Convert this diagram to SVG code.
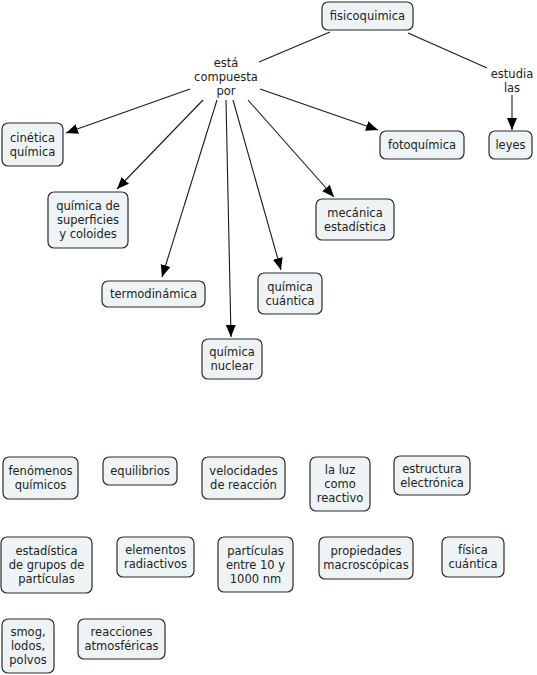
<svg xmlns="http://www.w3.org/2000/svg" width="537" height="675" viewBox="0 0 537 675">
<style>
.n rect{fill:#eef3f6;stroke:#2b2b2b;stroke-width:1.2}
text{font-family:"DejaVu Sans",Verdana,sans-serif;font-size:11.5px;fill:#222;text-anchor:middle}
.c line{stroke:#1a1a1a;stroke-width:1.1;fill:none}
</style>
<defs>
<marker id="a" markerUnits="userSpaceOnUse" markerWidth="13" markerHeight="11" refX="12" refY="5" orient="auto"><path d="M0,0 L12,5 L0,10 z" fill="#000"/></marker>
</defs>
<rect width="537" height="675" fill="#fff"/>
<g class="c" id="connectors">
<line x1="330" y1="32" x2="259" y2="62"/>
<line x1="408" y1="33" x2="487" y2="68"/>
<line x1="512" y1="95" x2="512" y2="130" marker-end="url(#a)"/>
<line x1="190" y1="89" x2="66" y2="133" marker-end="url(#a)"/>
<line x1="203" y1="100" x2="117" y2="189" marker-end="url(#a)"/>
<line x1="217" y1="100" x2="162" y2="277" marker-end="url(#a)"/>
<line x1="226" y1="100" x2="231" y2="337" marker-end="url(#a)"/>
<line x1="233" y1="100" x2="281" y2="270" marker-end="url(#a)"/>
<line x1="248" y1="100" x2="334" y2="197" marker-end="url(#a)"/>
<line x1="260" y1="89" x2="378" y2="130" marker-end="url(#a)"/>
</g>
<g id="lbl-esta"><text x="226" y="67">está</text><text x="226" y="81">compuesta</text><text x="226" y="95">por</text></g>
<g id="lbl-estudia"><text x="512" y="78">estudia</text><text x="512" y="92">las</text></g>
<g class="n" id="fisicoquimica"><rect x="322" y="2" width="91" height="28" rx="6"/><text x="367.5" y="20">fisicoquimica</text></g>
<g class="n" id="fotoquimica"><rect x="380" y="131" width="84" height="28" rx="6"/><text x="422" y="149">fotoquímica</text></g>
<g class="n" id="leyes"><rect x="489" y="131" width="43" height="28" rx="6"/><text x="510.5" y="149">leyes</text></g>
<g class="n" id="cinetica"><rect x="2" y="123" width="61" height="43" rx="6"/><text x="32.5" y="141.5">cinética</text><text x="32.5" y="155.5">química</text></g>
<g class="n" id="superficies"><rect x="48" y="192" width="80" height="56" rx="6"/><text x="88" y="210">química de</text><text x="88" y="224">superficies</text><text x="88" y="238">y coloides</text></g>
<g class="n" id="termodinamica"><rect x="102" y="281" width="103" height="26" rx="6"/><text x="153.5" y="298">termodinámica</text></g>
<g class="n" id="nuclear"><rect x="202" y="339" width="60" height="40" rx="6"/><text x="232" y="356">química</text><text x="232" y="370">nuclear</text></g>
<g class="n" id="cuantica"><rect x="258" y="273" width="64" height="41" rx="6"/><text x="290" y="290.5">química</text><text x="290" y="304.5">cuántica</text></g>
<g class="n" id="mecanica"><rect x="316" y="199" width="78" height="41" rx="6"/><text x="355" y="216.5">mecánica</text><text x="355" y="230.5">estadística</text></g>
<g class="n" id="fenomenos"><rect x="3" y="457" width="75" height="42" rx="6"/><text x="40.5" y="475">fenómenos</text><text x="40.5" y="489">químicos</text></g>
<g class="n" id="equilibrios"><rect x="103" y="457" width="74" height="28" rx="6"/><text x="140" y="475">equilibrios</text></g>
<g class="n" id="velocidades"><rect x="202" y="457" width="83" height="42" rx="6"/><text x="243.5" y="475">velocidades</text><text x="243.5" y="489">de reacción</text></g>
<g class="n" id="laluz"><rect x="310" y="457" width="60" height="54" rx="6"/><text x="340" y="474">la luz</text><text x="340" y="488">como</text><text x="340" y="502">reactivo</text></g>
<g class="n" id="estructura"><rect x="394" y="456" width="76" height="39" rx="6"/><text x="432" y="473">estructura</text><text x="432" y="487">electrónica</text></g>
<g class="n" id="estadistica"><rect x="1" y="537" width="91" height="56" rx="6"/><text x="46.5" y="555">estadística</text><text x="46.5" y="569">de grupos de</text><text x="46.5" y="583">partículas</text></g>
<g class="n" id="elementos"><rect x="117" y="537" width="77" height="40" rx="6"/><text x="155.5" y="554">elementos</text><text x="155.5" y="568">radiactivos</text></g>
<g class="n" id="particulas"><rect x="218" y="537" width="75" height="55" rx="6"/><text x="255.5" y="554.5">partículas</text><text x="255.5" y="568.5">entre 10 y</text><text x="255.5" y="582.5">1000 nm</text></g>
<g class="n" id="propiedades"><rect x="319" y="537" width="94" height="42" rx="6"/><text x="366" y="555">propiedades</text><text x="366" y="569">macroscópicas</text></g>
<g class="n" id="fisica"><rect x="442" y="537" width="62" height="40" rx="6"/><text x="473" y="554">física</text><text x="473" y="568">cuántica</text></g>
<g class="n" id="smog"><rect x="2" y="619" width="52" height="54" rx="6"/><text x="28" y="636">smog,</text><text x="28" y="650">lodos,</text><text x="28" y="664">polvos</text></g>
<g class="n" id="reacciones"><rect x="78" y="619" width="87" height="40" rx="6"/><text x="121.5" y="636">reacciones</text><text x="121.5" y="650">atmosféricas</text></g>
</svg>
